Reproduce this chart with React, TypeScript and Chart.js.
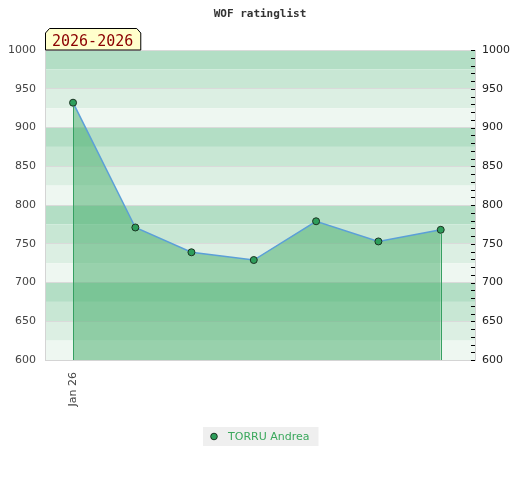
import { useEffect, useRef } from 'react';
import { Chart, registerables } from 'chart.js';

Chart.register(...registerables);

const TITLE = 'WOF ratinglist';
const SEASON = '2026-2026';
const PLAYER = 'TORRU Andrea';
const dayOffsets = [0, 10, 19, 29, 39, 49, 59];
const ratings = [932, 771, 739, 729, 779, 753, 768];
const xTickValues = [0];
const xTickLabels = ['Jan 26'];
const yMin = 600;
const yMax = 1000;
const xMin = -4.5;
const xMax = 64.5;
const bandColors = ['#b3dec5', '#c8e7d4', '#dcefe3', '#eef7f1'];

const FONT = '"DejaVu Sans", sans-serif';
const MONO = '"DejaVu Sans Mono", monospace';

const decorPlugin = {
  id: 'decor',
  beforeDraw(chart: any) {
    const { ctx, chartArea: a, scales } = chart;
    const y = scales.y;
    ctx.save();
    ctx.fillStyle = '#ffffff';
    ctx.fillRect(0, 0, chart.width, chart.height);
    for (let v = yMax; v > yMin; v -= 25) {
      const idx = ((100 - (v % 100)) % 100) / 25;
      const top = y.getPixelForValue(v);
      const bot = y.getPixelForValue(v - 25);
      ctx.fillStyle = bandColors[idx];
      ctx.fillRect(a.left, top, a.right - a.left, bot - top);
    }
    ctx.restore();
  },
  afterDatasetsDraw(chart: any) {
    const { ctx, chartArea: a } = chart;
    const pts = chart.getDatasetMeta(0).data;
    if (!pts.length) return;
    ctx.save();
    ctx.strokeStyle = '#36a062';
    ctx.lineWidth = 1;
    [pts[0], pts[pts.length - 1]].forEach((p: any) => {
      const x = Math.round(p.x) + 0.5;
      ctx.beginPath();
      ctx.moveTo(x, p.y + 4);
      ctx.lineTo(x, a.bottom);
      ctx.stroke();
    });
    ctx.restore();
  },
  afterDraw(chart: any) {
    const { ctx, chartArea: a, scales } = chart;
    ctx.save();
    // right axis tick marks (inside plot)
    const y2 = scales.y2;
    ctx.strokeStyle = '#000';
    ctx.lineWidth = 1;
    y2.ticks.forEach((t: any) => {
      const py = Math.round(y2.getPixelForValue(t.value)) + 0.5;
      ctx.beginPath();
      ctx.moveTo(a.right - 4, py);
      ctx.lineTo(a.right, py);
      ctx.stroke();
    });

    // title
    ctx.fillStyle = '#333';
    ctx.font = 'bold 11px ' + MONO;
    ctx.textAlign = 'center';
    ctx.textBaseline = 'alphabetic';
    ctx.fillText(TITLE, chart.width / 2, 17);

    // season box
    ctx.font = '15px ' + MONO;
    const sw = ctx.measureText(SEASON).width;
    const bl = a.left;
    const br = a.left + sw + 15;
    const bt = a.top - 22;
    ctx.beginPath();
    ctx.moveTo(bl + 0.5, a.top);
    ctx.lineTo(bl + 0.5, bt + 5);
    ctx.lineTo(bl + 4.5, bt + 0.5);
    ctx.lineTo(br - 4.5, bt + 0.5);
    ctx.lineTo(br - 0.5, bt + 5);
    ctx.lineTo(br - 0.5, a.top);
    ctx.closePath();
    ctx.fillStyle = '#ffffcc';
    ctx.fill();
    ctx.strokeStyle = '#000';
    ctx.stroke();
    ctx.fillStyle = '#8b0000';
    ctx.textAlign = 'left';
    ctx.fillText(SEASON, bl + 7, a.top - 4);

    // legend
    const ds = chart.data.datasets[0];
    ctx.font = '11px ' + FONT;
    const tw = ctx.measureText(PLAYER).width;
    const boxW = tw + 34;
    const boxX = Math.round(chart.width / 2 + 1 - boxW / 2);
    const boxY = 427;
    ctx.fillStyle = '#efefef';
    ctx.fillRect(boxX, boxY, boxW, 19);
    ctx.beginPath();
    ctx.arc(boxX + 11, boxY + 9.5, 3.3, 0, Math.PI * 2);
    ctx.fillStyle = ds.pointBackgroundColor;
    ctx.fill();
    ctx.strokeStyle = ds.pointBorderColor;
    ctx.lineWidth = 1;
    ctx.stroke();
    ctx.fillStyle = '#3aa85c';
    ctx.textBaseline = 'middle';
    ctx.fillText(PLAYER, boxX + 25, boxY + 10);
    ctx.restore();
  },
};

export default function App() {
  const ref = useRef<HTMLCanvasElement | null>(null);
  useEffect(() => {
    if (!ref.current) return;
    const tickFont = { family: FONT, size: 11 };
    const chart = new Chart(ref.current, {
      type: 'line',
      data: {
        datasets: [
          {
            label: PLAYER,
            data: dayOffsets.map((d, i) => ({ x: d, y: ratings[i] })),
            borderColor: '#5b9fd8',
            borderWidth: 1.5,
            backgroundColor: 'rgba(66,172,104,0.5)',
            fill: 'start',
            tension: 0,
            pointRadius: 3.5,
            pointBackgroundColor: '#2e9e5b',
            pointBorderColor: '#1b3322',
            pointBorderWidth: 1,
          } as any,
        ],
      },
      options: {
        responsive: false,
        animation: false,
        layout: { padding: { top: 50, bottom: 60, left: 0, right: 0 } },
        plugins: {
          legend: { display: false },
          title: { display: false },
          tooltip: { enabled: false },
        },
        scales: {
          x: {
            type: 'linear',
            min: xMin,
            max: xMax,
            afterBuildTicks: (scale: any) => {
              scale.ticks = xTickValues.map((v) => ({ value: v }));
            },
            afterFit: (scale: any) => {
              scale.height = 60;
            },
            ticks: {
              autoSkip: false,
              minRotation: 90,
              maxRotation: 90,
              padding: 12,
              color: '#444',
              font: tickFont,
              callback: (_v: any, i: number) => xTickLabels[i],
            },
            grid: { display: true, drawOnChartArea: false, drawTicks: false },
            border: { display: true, color: '#d4d4d4' },
          },
          y: {
            position: 'left',
            min: yMin,
            max: yMax,
            afterFit: (scale: any) => {
              scale.width = 45;
            },
            ticks: {
              stepSize: 50,
              padding: 9,
              color: '#444',
              font: tickFont,
              callback: (v: any) => String(v),
            },
            grid: { color: '#dadada', drawTicks: false },
            border: { display: true, color: '#d4d4d4' },
          },
          y2: {
            position: 'right',
            min: yMin,
            max: yMax,
            afterFit: (scale: any) => {
              scale.width = 45;
            },
            ticks: {
              stepSize: 10,
              autoSkip: false,
              padding: 7,
              color: '#222',
              font: tickFont,
              callback: (v: any) => (Number(v) % 50 === 0 ? String(v) : ''),
            },
            grid: { display: true, drawOnChartArea: false, drawTicks: false },
            border: { display: true, color: '#d4d4d4' },
          },
        },
      } as any,
      plugins: [decorPlugin],
    });
    return () => chart.destroy();
  }, []);
  return (
    <canvas
      ref={ref}
      width={520}
      height={480}
      style={{ position: 'absolute', left: 0, top: 0, width: 520, height: 480 }}
    />
  );
}
